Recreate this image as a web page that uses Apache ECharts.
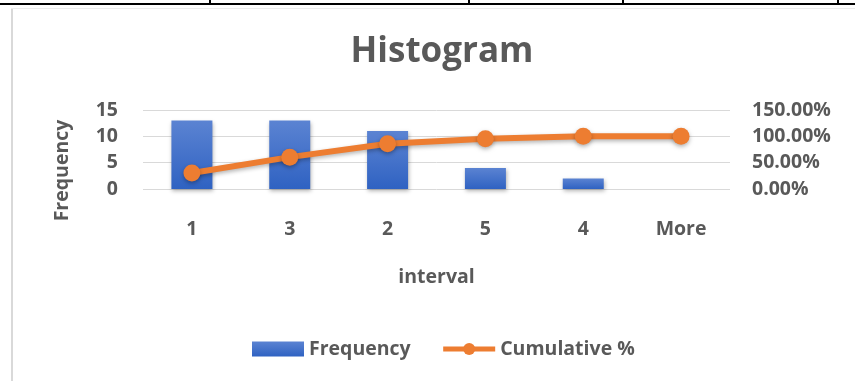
<!DOCTYPE html>
<html><head><meta charset="utf-8">
<script src="https://cdn.jsdelivr.net/npm/echarts@6/dist/echarts.min.js"></script>
<style>html,body{margin:0;padding:0;background:#fff}#c{width:855px;height:381px}</style>
</head><body><div id="c"></div>
<script>
const categories = ['1', '3', '2', '5', '4', 'More'];
const frequency = [13, 13, 11, 4, 2, 0];
const cumulative = [0.3023, 0.6047, 0.8605, 0.9535, 1.0, 1.0];
const leftTicks = {min: 0, max: 15, interval: 5};
const rightTicks = {min: 0, max: 1.5, interval: 0.5};

const FONT = 'Open Sans';
const TXT = '#595959';
const chart = echarts.init(document.getElementById('c'));
chart.setOption({
  animation: false,
  title: {text: 'Histogram', left: 437, textAlign: 'center', top: 30,
    textStyle: {fontFamily: FONT, fontWeight: 'bold', fontSize: 35, color: TXT}},
  grid: {left: 143, right: 125, top: 110, bottom: 192, containLabel: false},
  legend: {top: 334, left: 247, itemWidth: 52, itemHeight: 15, itemGap: 30,
    textStyle: {fontFamily: FONT, fontWeight: 'bold', fontSize: 19.5, color: TXT},
    data: [{name: 'Frequency', icon: 'rect'},
           {name: 'Cumulative %', lineStyle: {width: 5, color: '#ed7d31'}}]},
  xAxis: {type: 'category', data: categories, name: 'interval', nameLocation: 'middle', nameGap: 78,
    nameTextStyle: {fontFamily: FONT, fontWeight: 'bold', fontSize: 19.5, color: TXT},
    axisLine: {show: false}, axisTick: {show: false},
    axisLabel: {margin: 30, fontFamily: FONT, fontWeight: 'bold', fontSize: 19.5, color: TXT}},
  yAxis: [
    {type: 'value', min: leftTicks.min, max: leftTicks.max, interval: leftTicks.interval,
     name: 'Frequency', nameLocation: 'middle', nameGap: 71, nameRotate: 90,
     nameTextStyle: {fontFamily: FONT, fontWeight: 'bold', fontSize: 19.5, color: TXT, padding: [0, 42, 0, 0]},
     splitLine: {lineStyle: {color: '#d9d9d9', width: 1}},
     axisLabel: {margin: 25, fontFamily: FONT, fontWeight: 'bold', fontSize: 19.5, color: TXT}},
    {type: 'value', min: rightTicks.min, max: rightTicks.max, interval: rightTicks.interval,
     splitLine: {show: false},
     axisLabel: {margin: 22, fontFamily: FONT, fontWeight: 'bold', fontSize: 19.5, color: TXT,
       formatter: v => (v * 100).toFixed(2) + '%'}}
  ],
  series: [
    {name: 'Frequency', type: 'bar', data: frequency, barWidth: 41, yAxisIndex: 0,
     itemStyle: {color: new echarts.graphic.LinearGradient(0, 0, 0, 1,
       [{offset: 0, color: '#5b83d2'}, {offset: 1, color: '#2f62c2'}]),
       shadowColor: 'rgba(0,0,0,0.3)', shadowBlur: 4, shadowOffsetX: 1, shadowOffsetY: 2}},
    {name: 'Cumulative %', type: 'line', data: cumulative, yAxisIndex: 1,
     symbol: 'circle', symbolSize: 17,
     lineStyle: {color: '#ed7d31', width: 6, shadowColor: 'rgba(0,0,0,0.3)', shadowBlur: 4, shadowOffsetY: 2},
     itemStyle: {color: '#ed7d31', shadowColor: 'rgba(0,0,0,0.3)', shadowBlur: 4, shadowOffsetY: 2}}
  ],
  graphic: [
    {type: 'rect', shape: {x: 0, y: 3, width: 855, height: 2}, style: {fill: '#000'}},
    {type: 'rect', shape: {x: 209, y: 0, width: 2, height: 4}, style: {fill: '#000'}},
    {type: 'rect', shape: {x: 468, y: 0, width: 2, height: 4}, style: {fill: '#000'}},
    {type: 'rect', shape: {x: 622, y: 0, width: 2, height: 4}, style: {fill: '#000'}},
    {type: 'rect', shape: {x: 837, y: 0, width: 2, height: 4}, style: {fill: '#000'}},
    {type: 'rect', shape: {x: 11, y: 8, width: 2, height: 373}, style: {fill: '#d9d9d9'}},
    {type: 'rect', shape: {x: 11, y: 8, width: 844, height: 1}, style: {fill: '#ececec'}}
  ]
});
</script></body></html>
